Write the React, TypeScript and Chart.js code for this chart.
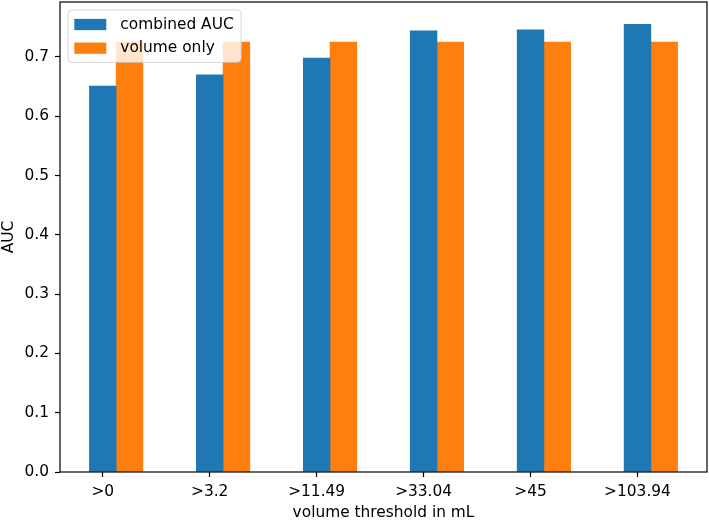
import React, { useEffect, useRef } from "react";
import { Chart, registerables } from "chart.js";

Chart.register(...registerables);

const CATEGORIES = [">0", ">3.2", ">11.49", ">33.04", ">45", ">103.94"];
const COMBINED_AUC = [0.651, 0.67, 0.698, 0.744, 0.746, 0.755];
const VOLUME_ONLY = [0.725, 0.725, 0.725, 0.725, 0.725, 0.725];
const SERIES_LABELS = ["combined AUC", "volume only"];
const SERIES_COLORS = ["#1f77b4", "#ff7f0e"];
const Y_TICKS = [0, 0.1, 0.2, 0.3, 0.4, 0.5, 0.6, 0.7];
const X_TITLE = "volume threshold in mL";
const Y_TITLE = "AUC";
const BAR_WIDTH = 0.25;

const FONT_FAMILY = "'DejaVu Sans', sans-serif";
const FONT_SIZE = 15.4;

const frameAndLegend = {
  id: "frameAndLegend",
  afterDatasetsDraw(chart: any) {
    const { ctx, chartArea } = chart;
    ctx.save();
    ctx.strokeStyle = "#000";
    ctx.lineWidth = 1.2;
    ctx.strokeRect(
      chartArea.left,
      chartArea.top,
      chartArea.right - chartArea.left,
      chartArea.bottom - chartArea.top
    );
    ctx.restore();
  },
  afterDraw(chart: any) {
    const { ctx, chartArea } = chart;
    const datasets = chart.data.datasets;
    ctx.save();
    ctx.font = `${FONT_SIZE}px ${FONT_FAMILY}`;
    let maxW = 0;
    datasets.forEach((d: any) => {
      maxW = Math.max(maxW, ctx.measureText(d.label).width);
    });
    const x0 = chartArea.left + 8;
    const y0 = chartArea.top + 8;
    const padL = 6.3;
    const swW = 32;
    const swH = 11.3;
    const gap = 14;
    const rowH = 23.7;
    const w = padL + swW + gap + maxW + 7.5;
    const h = 52.3;
    const r = 4;
    ctx.beginPath();
    ctx.moveTo(x0 + r, y0);
    ctx.lineTo(x0 + w - r, y0);
    ctx.quadraticCurveTo(x0 + w, y0, x0 + w, y0 + r);
    ctx.lineTo(x0 + w, y0 + h - r);
    ctx.quadraticCurveTo(x0 + w, y0 + h, x0 + w - r, y0 + h);
    ctx.lineTo(x0 + r, y0 + h);
    ctx.quadraticCurveTo(x0, y0 + h, x0, y0 + h - r);
    ctx.lineTo(x0, y0 + r);
    ctx.quadraticCurveTo(x0, y0, x0 + r, y0);
    ctx.closePath();
    ctx.fillStyle = "rgba(255,255,255,0.8)";
    ctx.fill();
    ctx.strokeStyle = "rgba(204,204,204,0.8)";
    ctx.lineWidth = 1;
    ctx.stroke();
    datasets.forEach((d: any, i: number) => {
      const cy = y0 + 14.5 + i * rowH;
      ctx.fillStyle = d.backgroundColor;
      ctx.fillRect(x0 + padL, cy - swH / 2, swW, swH);
      ctx.fillStyle = "#000";
      ctx.textAlign = "left";
      ctx.textBaseline = "middle";
      ctx.fillText(d.label, x0 + padL + swW + gap, cy);
    });
    ctx.restore();
  },
};

export default function App() {
  const canvasRef = useRef<HTMLCanvasElement | null>(null);

  useEffect(() => {
    document.body.style.margin = "0";
    const canvas = canvasRef.current;
    if (!canvas) return;

    const n = CATEGORIES.length;
    const lo = -BAR_WIDTH / 2;
    const hi = n - 1 + BAR_WIDTH + BAR_WIDTH / 2;
    const span = hi - lo;
    const xMin = lo - 0.05 * span;
    const xMax = hi + 0.05 * span;
    const yMax = Math.max(...COMBINED_AUC, ...VOLUME_ONLY) * 1.05;

    const chart = new Chart(canvas, {
      type: "bar",
      data: {
        datasets: [
          {
            label: SERIES_LABELS[0],
            data: COMBINED_AUC.map((v, i) => ({ x: i, y: v })),
            backgroundColor: SERIES_COLORS[0],
            borderWidth: 0,
            grouped: false,
            barPercentage: 1,
            categoryPercentage: 1,
          },
          {
            label: SERIES_LABELS[1],
            data: VOLUME_ONLY.map((v, i) => ({ x: i + BAR_WIDTH, y: v })),
            backgroundColor: SERIES_COLORS[1],
            borderWidth: 0,
            grouped: false,
            barPercentage: 1,
            categoryPercentage: 1,
          },
        ],
      },
      options: {
        responsive: false,
        animation: false,
        devicePixelRatio: 1,
        layout: { padding: { top: 2, right: 2, left: 0, bottom: 0 } },
        plugins: {
          legend: { display: false },
          tooltip: { enabled: false },
        },
        scales: {
          x: {
            type: "linear",
            min: xMin,
            max: xMax,
            offset: false,
            afterBuildTicks: (scale: any) => {
              scale.ticks = CATEGORIES.map((_, i) => ({ value: i }));
            },
            afterFit: (scale: any) => {
              scale.height = 48;
              scale.paddingLeft = 0;
              scale.paddingRight = 0;
              scale.paddingTop = 0;
              scale.paddingBottom = 0;
            },
            grid: {
              display: true,
              drawOnChartArea: false,
              drawTicks: true,
              tickLength: 5,
              tickColor: "#000",
              tickWidth: 1.2,
              offset: false,
            },
            border: { display: false },
            ticks: {
              autoSkip: false,
              maxRotation: 0,
              padding: 6,
              color: "#000",
              font: { family: FONT_FAMILY, size: FONT_SIZE },
              callback: (_v: any, idx: number) => CATEGORIES[idx],
            },
            title: {
              display: true,
              text: X_TITLE,
              color: "#000",
              font: { family: FONT_FAMILY, size: FONT_SIZE },
              padding: { top: 0, bottom: -2 },
            },
          },
          y: {
            type: "linear",
            min: 0,
            max: yMax,
            afterBuildTicks: (scale: any) => {
              scale.ticks = Y_TICKS.map((v) => ({ value: v }));
            },
            afterFit: (scale: any) => {
              scale.width = 60;
              scale.paddingLeft = 0;
              scale.paddingRight = 0;
              scale.paddingTop = 0;
              scale.paddingBottom = 0;
            },
            grid: {
              display: true,
              drawOnChartArea: false,
              drawTicks: true,
              tickLength: 5,
              tickColor: "#000",
              tickWidth: 1.2,
            },
            border: { display: false },
            ticks: {
              padding: 6,
              color: "#000",
              font: { family: FONT_FAMILY, size: FONT_SIZE },
              callback: (v: any) => Number(v).toFixed(1),
            },
            title: {
              display: true,
              text: Y_TITLE,
              color: "#000",
              font: { family: FONT_FAMILY, size: FONT_SIZE },
              padding: { top: 0, bottom: 0 },
            },
          },
        },
      },
      plugins: [frameAndLegend],
    } as any);

    return () => {
      chart.destroy();
    };
  }, []);

  return (
    <div style={{ position: "absolute", left: 0, top: 0, width: 709, height: 520 }}>
      <canvas ref={canvasRef} width={709} height={520} style={{ display: "block" }} />
    </div>
  );
}
